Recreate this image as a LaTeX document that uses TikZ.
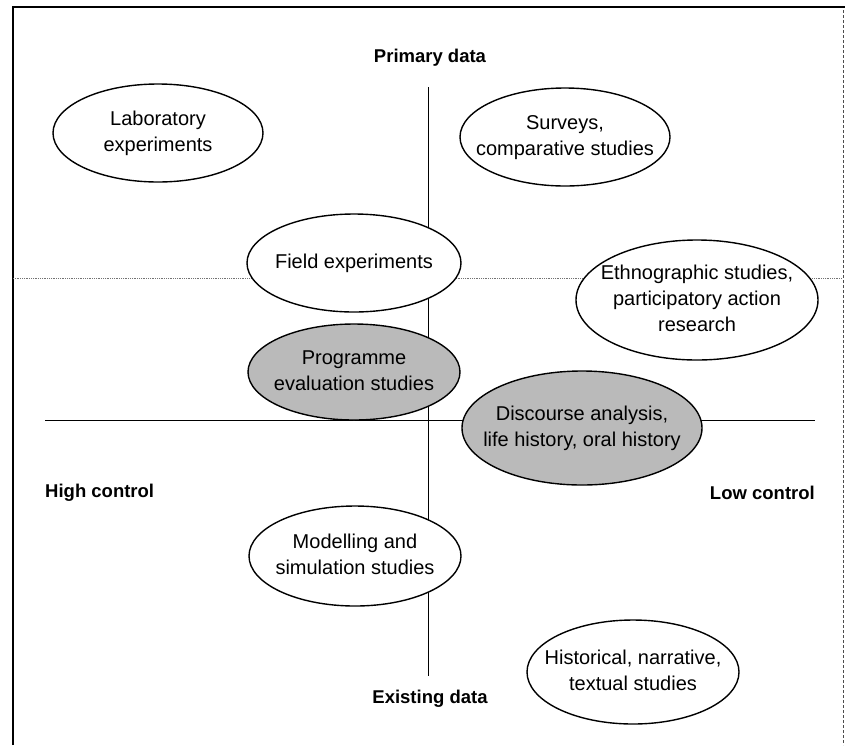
\documentclass[tikz,border=0pt]{standalone}
\usepackage{fontspec}
\setmainfont{Liberation Sans}
\usetikzlibrary{shapes.geometric}
\newcommand{\stacktext}[1]{\makebox[0pt][c]{\begin{tabular}{@{}c@{}}#1\end{tabular}}}
\tikzset{
  oval/.style={ellipse, draw=black, line width=1.4pt, fill=white, inner sep=0pt,
    font=\fontsize{20}{26}\selectfont},
  shaded/.style={oval, fill=black!27},
  axislabel/.style={font=\fontsize{18.5}{22}\selectfont\bfseries, inner sep=0pt},
  axisline/.style={line width=1pt, black},
  gridline/.style={line width=0.8pt, black!55, densely dotted},
}
\begin{document}
\begin{tikzpicture}[x=1pt,y=-1pt]
\useasboundingbox (0,0) rectangle (845,745);
\fill[white] (0,0) rectangle (845,745);
% frame
\draw[line width=1.6pt] (13,745) -- (13,7) -- (845,7);
\draw[line width=1pt, black!70, densely dashed] (843,10) -- (843,745);

% axes
\coordinate (top) at (428,87);
\coordinate (bottom) at (428,676);
\coordinate (left) at (45,420);
\coordinate (right) at (815,420);
\coordinate (dl) at (13,278);
\coordinate (dr) at (842,278);
\draw[gridline] (dl) -- (dr);
\draw[axisline] (top) -- (bottom);
\draw[axisline] (left) -- (right);

% axis labels
\node[axislabel] (primary) at (430,58) {Primary data};
\node[axislabel] (existing) at (430,699) {Existing data};
\node[axislabel, anchor=west] (high) at (45,493) {High control};
\node[axislabel, anchor=east] (low) at (815,493) {Low control};

% research approaches
\node[oval, minimum width=210pt, minimum height=98pt] (lab) at (158,133)
  {\stacktext{Laboratory\\experiments}};
\node[oval, minimum width=210pt, minimum height=98pt] (surveys) at (565,137)
  {\stacktext{Surveys,\\comparative studies}};
\node[oval, minimum width=214pt, minimum height=98pt] (field) at (354,263)
  {\stacktext{Field experiments}};
\node[oval, minimum width=242pt, minimum height=120pt] (ethno) at (697,300)
  {\stacktext{Ethnographic studies,\\participatory action\\research}};
\node[shaded, minimum width=212pt, minimum height=96pt] (prog) at (354,372)
  {\stacktext{Programme\\evaluation studies}};
\node[shaded, minimum width=240pt, minimum height=114pt] (disc) at (582,428)
  {\stacktext{Discourse analysis,\\life history, oral history}};
\node[oval, minimum width=212pt, minimum height=100pt] (model) at (355,556)
  {\stacktext{Modelling and\\simulation studies}};
\node[oval, minimum width=212pt, minimum height=104pt] (hist) at (633,672)
  {\stacktext{Historical, narrative,\\textual studies}};
\end{tikzpicture}
\end{document}
